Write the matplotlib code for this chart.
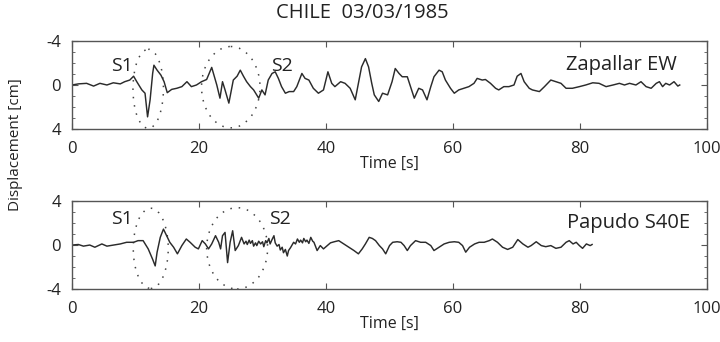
import matplotlib
matplotlib.use("Agg")
import matplotlib.pyplot as plt
from matplotlib.patches import Ellipse
from matplotlib.ticker import MultipleLocator

plt.rcParams['font.family'] = ['Open Sans', 'DejaVu Sans']
plt.rcParams['axes.unicode_minus'] = False

# Zapallar EW displacement record (time in s, displacement in cm)
zap_t = [0, 1.0, 2.3, 3.4, 4.4, 5.5, 6.5, 7.6, 8.3, 9.1, 9.7, 10.2, 11.0, 11.5,
         11.9, 12.3, 12.7, 12.9, 13.4, 14.0, 14.5, 15.0, 15.7, 16.5, 17.3, 18.1,
         18.8, 19.6, 20.4, 21.2, 22.0, 22.8, 23.3, 23.7, 24.1, 24.7, 25.4, 26.0,
         26.5, 27.0, 27.5, 28.1, 28.6, 29.4, 29.9, 30.4, 30.9, 31.5, 32.0, 32.5,
         33.0, 33.6, 34.2, 34.9, 35.4, 36.2, 36.7, 37.3, 38.0, 38.8, 39.6, 40.3,
         40.9, 41.4, 42.3, 43.0, 43.8, 44.6, 45.1, 45.6, 46.2, 46.7, 47.2, 47.6,
         48.3, 48.9, 49.7, 50.4, 50.9, 51.5, 52.0, 52.8, 53.3, 53.9, 54.6, 55.2,
         55.9, 56.5, 57.0, 57.8, 58.3, 58.8, 59.6, 60.2, 60.9, 61.7, 62.5, 63.3,
         63.8, 64.6, 65.1, 65.9, 66.7, 67.2, 68.0, 68.8, 69.6, 70.1, 70.7, 71.2,
         72.0, 72.5, 73.6, 74.4, 75.4, 76.2, 77.0, 77.8, 78.8, 79.9, 80.9, 82.0,
         83.0, 84.1, 85.2, 86.2, 87.0, 87.8, 88.8, 89.6, 90.4, 91.2, 92.0, 92.5,
         93.0, 93.5, 94.1, 94.8, 95.4, 95.7]
zap_d = [0.0, -0.1, -0.15, 0.1, -0.15, 0.0, -0.2, -0.1, -0.3, -0.45, -0.8, -0.3,
         0.45, 0.75, 2.9, 1.35, -1.05, -1.8, -1.35, -0.9, -0.3, 0.7, 0.4, 0.3,
         0.15, -0.3, 0.15, 0.0, -0.3, -0.5, -1.6, 0.0, 1.2, -0.3, 0.45, 1.65,
         -0.45, -0.8, -1.35, -0.8, -0.3, 0.15, 0.45, 1.2, 0.45, 0.9, -0.45, -1.05,
         -1.2, -0.6, 0.15, 0.75, 0.6, 0.6, 0.15, -1.05, -0.6, -0.45, 0.3, 0.75,
         0.45, -1.2, -0.15, 0.15, -0.3, -0.15, 0.3, 1.35, -0.15, -1.65, -2.4,
         -1.65, -0.15, 0.9, 1.5, 0.75, 0.9, -0.3, -1.5, -1.05, -0.75, -0.75, 0.15,
         1.2, 0.3, 0.45, 1.35, 0.15, -0.75, -1.35, -1.2, -0.45, 0.3, 0.75, 0.45,
         0.3, 0.15, -0.15, -0.6, -0.45, -0.5, -0.15, 0.3, 0.45, 0.15, 0.15, 0.0,
         -0.8, -1.05, -0.3, 0.3, 0.45, 0.6, 0.15, -0.45, -0.3, -0.15, 0.3, 0.3,
         0.15, 0.0, -0.2, -0.15, 0.15, 0.0, -0.15, 0.0, -0.15, 0.0, -0.3, 0.15,
         0.3, -0.15, -0.3, 0.15, -0.15, 0.0, -0.3, 0.1, 0.0]

# Papudo S40E displacement record (time in s, displacement in cm)
pap_t = [0, 1.0, 1.8, 2.8, 3.6, 4.7, 5.5, 6.5, 7.6, 8.6, 9.7, 10.4, 11.2, 12.0,
         12.7, 13.1, 13.4, 13.9, 14.4, 14.9, 15.4, 16.0, 16.6, 17.3, 18.0, 18.6,
         19.4, 19.9, 20.5, 21.0, 21.5, 22.0, 22.6, 23.1, 23.4, 23.7, 24.1, 24.5,
         24.9, 25.3, 25.7, 26.2, 26.7, 27.1, 27.4, 27.6, 27.9, 28.1, 28.4, 28.6,
         28.9, 29.1, 29.4, 29.7, 30.0, 30.2, 30.5, 30.7, 31.0, 31.2, 31.5, 31.8,
         32.0, 32.3, 32.6, 32.8, 33.1, 33.3, 33.6, 33.9, 34.1, 34.4, 34.7, 34.9,
         35.2, 35.5, 35.8, 36.0, 36.3, 36.5, 36.8, 37.0, 37.3, 37.6, 37.9, 38.1,
         38.6, 39.1, 39.6, 40.2, 40.7, 41.3, 42.0, 42.8, 43.6, 44.4, 45.1, 45.7,
         46.2, 46.8, 47.3, 47.8, 48.4, 48.9, 49.4, 50.0, 50.5, 51.2, 51.8, 52.3,
         52.8, 53.3, 54.1, 54.9, 55.7, 56.5, 57.0, 57.8, 58.6, 59.4, 60.2, 60.9,
         61.5, 62.0, 62.6, 63.4, 64.1, 64.9, 65.7, 66.2, 67.0, 67.8, 68.6, 69.4,
         70.2, 71.0, 71.8, 72.3, 73.1, 73.9, 74.6, 75.4, 76.2, 77.0, 77.8, 78.3,
         78.9, 79.4, 79.9, 80.4, 81.0, 81.6, 81.9]
pap_d = [0.0, 0.05, -0.1, 0.0, -0.2, 0.1, -0.1, 0.0, 0.1, 0.25, 0.25, 0.4, 0.4,
         -0.35, -1.3, -1.9, -0.65, 0.7, 1.45, 0.85, 0.25, -0.2, -0.8, -0.05, 0.55,
         0.25, -0.2, -0.35, 0.4, 0.1, -0.35, 0.1, 0.85, 0.25, -0.35, 0.85, 1.15,
         -1.6, 0.25, 1.3, -0.5, -0.05, 0.7, 0.1, 0.35, 0.05, 0.45, 0.15, 0.4, -0.1,
         0.2, -0.05, 0.35, 0.1, 0.3, -0.15, 0.4, 0.2, 0.6, 0.1, 0.5, 0.85, 0.2,
         -0.1, 0.05, -0.45, -0.2, -0.7, -0.4, -1.0, -0.5, -0.25, 0.05, 0.25, 0.1,
         0.55, 0.25, 0.45, 0.2, 0.6, 0.3, 0.45, 0.15, 0.7, 0.35, 0.25, -0.5, -0.05,
         -0.35, -0.05, 0.2, 0.3, 0.4, 0.1, -0.2, -0.5, -0.8, -0.35, 0.1, 0.7, 0.6,
         0.4, -0.05, -0.35, -0.8, -0.05, 0.25, 0.3, 0.25, -0.05, -0.5, -0.05, 0.4,
         0.25, 0.25, -0.05, -0.5, -0.2, 0.1, 0.25, 0.3, 0.25, -0.05, -0.65, -0.2,
         0.1, 0.25, 0.25, 0.4, 0.55, 0.25, -0.2, -0.4, -0.2, 0.5, 0.1, -0.2, -0.05,
         0.3, -0.05, -0.15, -0.05, -0.3, -0.2, 0.25, 0.4, 0.1, 0.25, -0.05, -0.3,
         0.1, -0.05, 0.05]

x_ticks = [0, 20, 40, 60, 80, 100]
y_ticks = [-4, 0, 4]

trace_color = '#2b2b2b'
frame_color = '#555555'
text_color = '#222222'

fig = plt.figure(figsize=(7.2, 3.42), dpi=100)
ax_top = fig.add_axes([0.100, 0.623, 0.882, 0.257])
ax_bot = fig.add_axes([0.100, 0.155, 0.882, 0.257])


def style_axis(ax):
    ax.set_xlim(0, 100)
    ax.set_xticks(x_ticks)
    ax.yaxis.set_minor_locator(MultipleLocator(1))
    ax.set_yticks(y_ticks)
    ax.tick_params(which='both', direction='in', top=True, right=True,
                   colors=frame_color, labelcolor=text_color, labelsize=12)
    ax.tick_params(axis='x', which='major', length=4, pad=9)
    ax.tick_params(axis='y', which='major', length=4, pad=8)
    ax.tick_params(axis='y', which='minor', length=2.5)
    for s in ax.spines.values():
        s.set_color(frame_color)
        s.set_linewidth(1.0)
    ax.set_xlabel('Time [s]', fontsize=11.5, color=text_color, labelpad=-1)


def dotted_ellipse(ax, cx, cy, w, h):
    ax.add_patch(Ellipse((cx, cy), w, h, fill=False, edgecolor='#444444',
                         linewidth=1.1, linestyle=(0, (1, 4.5))))


# upper panel: Zapallar EW (axis inverted, -4 on top)
ax_top.plot(zap_t, zap_d, color=trace_color, linewidth=1.05)
ax_top.set_ylim(4, -4)
style_axis(ax_top)
dotted_ellipse(ax_top, 12.0, 0.35, 4.8, 7.2)
dotted_ellipse(ax_top, 25.0, 0.2, 9.2, 7.4)
ax_top.text(7.8, -1.7, 'S1', fontsize=14, ha='center', va='center', color=text_color)
ax_top.text(33.0, -1.7, 'S2', fontsize=14, ha='center', va='center', color=text_color)
ax_top.text(95.3, -1.8, 'Zapallar EW', fontsize=14.5, ha='right', va='center',
            color=text_color)

# lower panel: Papudo S40E
ax_bot.plot(pap_t, pap_d, color=trace_color, linewidth=1.05)
ax_bot.set_ylim(-4, 4)
style_axis(ax_bot)
dotted_ellipse(ax_bot, 12.4, -0.3, 5.5, 7.3)
dotted_ellipse(ax_bot, 26.0, -0.3, 9.6, 7.4)
ax_bot.text(7.9, 2.4, 'S1', fontsize=14, ha='center', va='center', color=text_color)
ax_bot.text(32.7, 2.4, 'S2', fontsize=14, ha='center', va='center', color=text_color)
ax_bot.text(97.3, 2.0, 'Papudo S40E', fontsize=14.5, ha='right', va='center',
            color=text_color)

fig.text(0.503, 0.963, 'CHILE  03/03/1985', fontsize=14.5, ha='center', va='center',
         color=text_color)
fig.text(0.022, 0.576, 'Displacement [cm]', fontsize=11, rotation=90,
         ha='center', va='center', color=text_color)

fig.savefig('out.png', dpi=100, facecolor='white')
